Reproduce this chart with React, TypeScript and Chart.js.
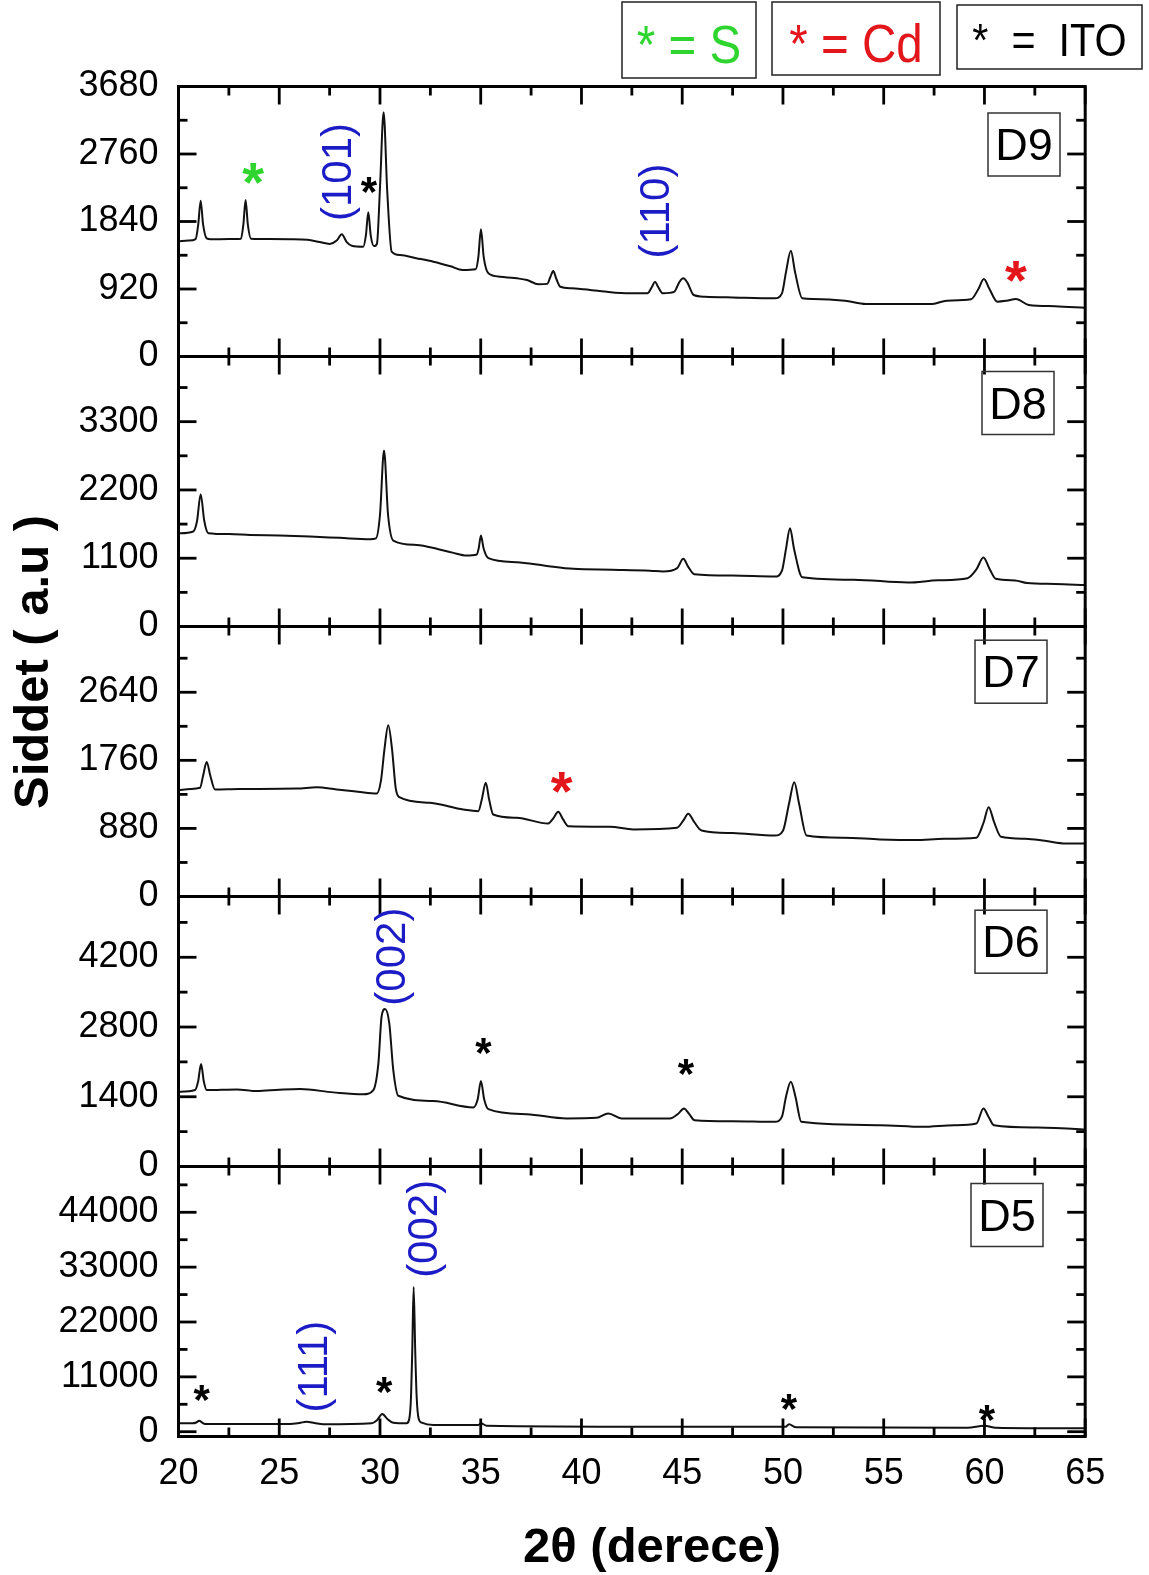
import { useEffect, useRef } from 'react';
import { Chart, registerables } from 'chart.js';

Chart.register(...registerables);

type Pt = [number, number];

// 2θ axis
const twoThetaMin = 20;
const twoThetaMax = 65;
const twoThetaTicks = [20, 25, 30, 35, 40, 45, 50, 55, 60, 65];

// Intensity axes, top panel first
const sampleNames = ['D9', 'D8', 'D7', 'D6', 'D5'];
const intensityMin = [0, 0, 0, 0, -960];
const intensityMax = [3680, 4350, 3490, 5420, 53180];
const d9Ticks = [0, 920, 1840, 2760, 3680];
const d8Ticks = [0, 1100, 2200, 3300];
const d7Ticks = [0, 880, 1760, 2640];
const d6Ticks = [0, 1400, 2800, 4200];
const d5Ticks = [0, 11000, 22000, 33000, 44000];

// Diffraction patterns: [2θ (degrees), intensity (a.u.)]
const d9Pattern: Pt[] = [
  [20.0, 1570], [20.5, 1580], [20.85, 1600], [20.98, 1800], [21.1, 2124], [21.22, 1800], [21.4, 1610],
  [21.6, 1598], [22.5, 1600], [23.1, 1605], [23.22, 1800], [23.33, 2133], [23.44, 1800], [23.6, 1604],
  [24.5, 1600], [25.5, 1598], [26.4, 1590], [27.0, 1560], [27.5, 1535], [27.85, 1580], [28.1, 1665],
  [28.35, 1560], [28.6, 1510], [29.17, 1497], [29.3, 1650], [29.42, 1965], [29.54, 1650], [29.7, 1505],
  [29.85, 1540], [30.0, 2300], [30.18, 3328], [30.36, 2250], [30.58, 1429], [31.0, 1383], [31.8, 1340],
  [32.65, 1292], [33.5, 1230], [34.1, 1180], [34.75, 1190], [34.88, 1350], [35.01, 1733], [35.15, 1350],
  [35.38, 1134], [35.96, 1088], [36.8, 1065], [37.3, 1043], [37.86, 984], [38.3, 990], [38.45, 1080],
  [38.6, 1165], [38.75, 1060], [38.95, 951], [39.5, 930], [40.1, 916], [41.0, 890], [42.4, 861],
  [43.27, 861], [43.5, 950], [43.65, 1020], [43.8, 950], [44.04, 861], [44.6, 880], [44.85, 1010],
  [45.05, 1065], [45.25, 1010], [45.57, 838], [46.13, 815], [47.5, 805], [49.6, 793], [49.95, 860],
  [50.15, 1150], [50.39, 1442], [50.6, 1150], [50.96, 793], [51.5, 785], [53.08, 761], [54.12, 716],
  [57.42, 716], [58.12, 761], [59.33, 779], [59.7, 920], [59.97, 1056], [60.25, 920], [60.64, 747],
  [61.1, 760], [61.56, 784], [62.2, 702], [63.5, 685], [65.0, 663],
];

const d8Pattern: Pt[] = [
  [20.0, 1500], [20.73, 1530], [20.92, 1700], [21.1, 2132], [21.28, 1700], [21.48, 1504], [22.5, 1490],
  [23.55, 1476], [25.0, 1465], [26.53, 1449], [28.0, 1428], [29.5, 1407], [29.8, 1420], [30.0, 1800],
  [30.2, 2834], [30.4, 1800], [30.66, 1385], [31.82, 1315], [32.9, 1246], [33.6, 1190], [34.3, 1143],
  [34.8, 1160], [34.9, 1260], [35.01, 1465], [35.14, 1260], [35.38, 1101], [36.78, 1037], [38.2, 980],
  [39.6, 929], [41.5, 915], [43.4, 900], [44.04, 886], [44.75, 940], [45.05, 1090], [45.3, 960],
  [45.6, 843], [47.5, 820], [49.6, 805], [49.95, 900], [50.15, 1250], [50.35, 1584], [50.55, 1250],
  [50.96, 795], [53.5, 755], [56.2, 708], [57.7, 745], [59.16, 779], [59.6, 920], [59.95, 1111],
  [60.25, 930], [60.56, 768], [61.52, 741], [62.11, 699], [63.5, 685], [65.0, 668],
];

const d7Pattern: Pt[] = [
  [20.0, 1374], [20.6, 1390], [21.07, 1405], [21.22, 1560], [21.4, 1740], [21.58, 1560], [21.81, 1383],
  [23.0, 1390], [25.87, 1395], [26.86, 1413], [27.85, 1383], [28.9, 1355], [29.84, 1331], [30.05, 1500],
  [30.22, 1900], [30.41, 2212], [30.6, 1900], [30.78, 1400], [30.96, 1284], [32.48, 1211], [34.13, 1125],
  [34.88, 1103], [35.05, 1250], [35.25, 1469], [35.42, 1250], [35.62, 1060], [36.78, 1018], [38.35, 944],
  [38.6, 1010], [38.85, 1095], [39.08, 1000], [39.35, 909], [41.41, 902], [42.57, 867], [44.74, 889],
  [45.05, 980], [45.3, 1069], [45.6, 960], [45.96, 854], [47.5, 820], [49.6, 789], [50.0, 850],
  [50.3, 1200], [50.56, 1477], [50.8, 1200], [51.17, 789], [53.0, 760], [54.81, 738], [56.55, 729],
  [58.0, 745], [59.6, 760], [59.95, 950], [60.21, 1155], [60.48, 960], [60.82, 773], [62.03, 747],
  [63.0, 720], [64.03, 686], [65.0, 686],
];

const d6Pattern: Pt[] = [
  [20.0, 1500], [20.82, 1535], [20.97, 1700], [21.12, 2058], [21.26, 1700], [21.4, 1535], [22.89, 1548],
  [23.88, 1514], [25.0, 1540], [26.03, 1555], [27.68, 1488], [29.17, 1448], [29.67, 1535], [29.92, 2072],
  [30.08, 3011], [30.25, 3160], [30.46, 2878], [30.66, 1937], [30.91, 1420], [32.65, 1313], [34.63, 1186],
  [34.85, 1350], [35.01, 1716], [35.17, 1350], [35.38, 1152], [37.28, 1051], [39.26, 965], [40.75, 977],
  [41.33, 1065], [41.99, 965], [44.39, 965], [44.8, 1060], [45.09, 1166], [45.35, 1050], [45.61, 930],
  [47.5, 910], [49.6, 896], [49.95, 1000], [50.15, 1400], [50.39, 1702], [50.62, 1400], [50.91, 896],
  [54.81, 830], [56.9, 796], [58.5, 830], [59.6, 864], [59.95, 1166], [60.2, 1000], [60.47, 830],
  [62.64, 783], [64.9, 743], [65.0, 740],
];

const d5Pattern: Pt[] = [
  [20.0, 1690], [20.7, 1690], [20.88, 1850], [21.03, 2210], [21.18, 1800], [21.32, 1547], [25.53, 1547],
  [26.0, 1750], [26.36, 2009], [26.75, 1750], [27.19, 1487], [29.59, 1688], [29.85, 2300], [30.11, 3556],
  [30.38, 2500], [30.66, 1808], [31.32, 1688], [31.45, 2500], [31.54, 7000], [31.6, 16000], [31.67, 29010],
  [31.75, 16000], [31.82, 7000], [31.92, 2600], [32.07, 1808], [32.65, 1346], [34.88, 1346], [35.01, 1688],
  [35.29, 1205], [43.4, 1005], [50.13, 1005], [50.3, 1487], [50.65, 884], [59.16, 804], [60.0, 1205],
  [60.56, 804], [65.0, 683],
];

const patterns = [d9Pattern, d8Pattern, d7Pattern, d6Pattern, d5Pattern];
const tickSets = [d9Ticks, d8Ticks, d7Ticks, d6Ticks, d5Ticks];

// Phase / reflection markers: panel, 2θ, intensity, kind
const peakMarks = [
  { panel: 'D9', x: 23.7, y: 2556, kind: 'S', text: '*' },
  { panel: 'D9', x: 27.97, y: 2515, kind: 'hkl', text: '(101)' },
  { panel: 'D9', x: 29.45, y: 2378, kind: 'ITO', text: '*' },
  { panel: 'D9', x: 43.75, y: 1983, kind: 'hkl', text: '(110)' },
  { panel: 'D9', x: 61.56, y: 1220, kind: 'Cd', text: '*' },
  { panel: 'D7', x: 39.02, y: 1534, kind: 'Cd', text: '*' },
  { panel: 'D6', x: 30.66, y: 4213, kind: 'hkl', text: '(002)' },
  { panel: 'D6', x: 35.13, y: 2487, kind: 'ITO', text: '*' },
  { panel: 'D6', x: 45.18, y: 2058, kind: 'ITO', text: '*' },
  { panel: 'D5', x: 21.15, y: 8518, kind: 'ITO', text: '*' },
  { panel: 'D5', x: 26.81, y: 13060, kind: 'hkl', text: '(111)' },
  { panel: 'D5', x: 30.21, y: 10045, kind: 'ITO', text: '*' },
  { panel: 'D5', x: 32.26, y: 40680, kind: 'hkl', text: '(002)' },
  { panel: 'D5', x: 50.3, y: 6710, kind: 'ITO', text: '*' },
  { panel: 'D5', x: 60.12, y: 4360, kind: 'ITO', text: '*' },
];

const legendEntries = [
  { kind: 'S', text: '* = S' },
  { kind: 'Cd', text: '* = Cd' },
  { kind: 'ITO', text: '*  =  ITO' },
];

const FONT = '"Liberation Sans", Arial, Helvetica, sans-serif';
const kindColor: Record<string, string> = { S: '#2fd52f', Cd: '#e2161b', ITO: '#000000', hkl: '#1c1cc6' };

// sample-name boxes (page pixels: left edge, offset below panel top)
const nameBoxLeft = [988, 982, 975, 975, 971];
const nameBoxOffset = [26.5, 15, 13.7, 13.7, 17];

// legend boxes (page pixels)
const legendBoxes = [
  { x: 622, y: 2, w: 134, h: 76, size: 54, base: 63 },
  { x: 772, y: 2, w: 168, h: 73, size: 54, base: 62 },
  { x: 957, y: 5, w: 185, h: 64, size: 47, base: 56 },
];

const axisId = (name: string) => 'y' + name;

const overlayPlugin = {
  id: 'xrdOverlay',
  afterDatasetsDraw(chart: any) {
    const ctx: CanvasRenderingContext2D = chart.ctx;
    const xs = chart.scales.x;
    const left = xs.left;
    const right = xs.right;
    ctx.save();
    ctx.strokeStyle = '#000';
    ctx.lineCap = 'butt';

    const seg = (x1: number, y1: number, x2: number, y2: number) => {
      ctx.beginPath();
      ctx.moveTo(x1, y1);
      ctx.lineTo(x2, y2);
      ctx.stroke();
    };

    sampleNames.forEach((name, i) => {
      const ys = chart.scales[axisId(name)];
      const top = ys.top;
      const bottom = ys.bottom;
      ctx.lineWidth = 2.8;
      // 2θ ticks on both edges, pointing inward
      for (let v = twoThetaMin; v <= twoThetaMax + 1e-6; v += 2.5) {
        const px = xs.getPixelForValue(v);
        const major = Math.abs((v - twoThetaMin) % 5) < 1e-6;
        const len = major ? 18 : 9;
        seg(px, bottom, px, bottom - len);
        seg(px, top, px, top + len);
      }
      // intensity ticks on both sides
      const tks = tickSets[i];
      const step = tks[1] - tks[0];
      const min = intensityMin[i];
      const max = intensityMax[i];
      tks.forEach((v) => {
        const py = ys.getPixelForValue(v);
        seg(left, py, left + 18, py);
        seg(right, py, right - 18, py);
      });
      for (let v = tks[0] + step / 2; v < max; v += step) {
        if (v < min) continue;
        const py = ys.getPixelForValue(v);
        seg(left, py, left + 9, py);
        seg(right, py, right - 9, py);
      }
      // frame
      ctx.lineWidth = 3;
      ctx.strokeRect(left, top, right - left, bottom - top);

      // sample-name box
      const bx = nameBoxLeft[i];
      const by = top + nameBoxOffset[i];
      ctx.lineWidth = 1.5;
      ctx.strokeStyle = '#333';
      ctx.strokeRect(bx, by, 72, 63);
      ctx.strokeStyle = '#000';
      ctx.fillStyle = '#000';
      ctx.font = `45px ${FONT}`;
      ctx.textAlign = 'center';
      ctx.textBaseline = 'alphabetic';
      ctx.fillText(name, bx + 36, by + 47);
    });

    // peak markers
    peakMarks.forEach((m) => {
      const ys = chart.scales[axisId(m.panel)];
      const px = xs.getPixelForValue(m.x);
      const py = ys.getPixelForValue(m.y);
      ctx.fillStyle = kindColor[m.kind];
      ctx.textAlign = 'center';
      if (m.kind === 'hkl') {
        ctx.save();
        ctx.translate(px, py);
        ctx.rotate(-Math.PI / 2);
        ctx.font = `42px ${FONT}`;
        ctx.textBaseline = 'middle';
        ctx.fillText(m.text, 0, 0);
        ctx.restore();
      } else if (m.kind === 'ITO') {
        ctx.font = `bold 42px ${FONT}`;
        ctx.textBaseline = 'alphabetic';
        ctx.fillText(m.text, px, py + 0.58 * 42);
      } else {
        ctx.font = `bold 56px ${FONT}`;
        ctx.textBaseline = 'alphabetic';
        ctx.fillText(m.text, px, py + 0.58 * 56);
      }
    });

    // legend
    legendEntries.forEach((e, i) => {
      const b = legendBoxes[i];
      ctx.lineWidth = 1.5;
      ctx.strokeStyle = '#222';
      ctx.strokeRect(b.x, b.y, b.w, b.h);
      ctx.fillStyle = kindColor[e.kind];
      ctx.font = `${b.size}px ${FONT}`;
      ctx.textAlign = 'center';
      ctx.textBaseline = 'alphabetic';
      ctx.save();
      ctx.translate(b.x + b.w / 2, b.base);
      ctx.scale(0.88, 1);
      ctx.fillText(e.text, 0, 0);
      ctx.restore();
    });

    // axis titles
    ctx.fillStyle = '#000';
    ctx.font = `bold 49px ${FONT}`;
    ctx.textAlign = 'center';
    ctx.textBaseline = 'alphabetic';
    ctx.fillText('2θ (derece)', 652, 1562);

    ctx.save();
    ctx.translate(34, 662);
    ctx.rotate(-Math.PI / 2);
    ctx.font = `bold 49px ${FONT}`;
    ctx.textBaseline = 'middle';
    ctx.fillText('Siddet ( a.u )', 0, 0);
    ctx.restore();

    ctx.restore();
  },
};

function buildScales() {
  const tickFont = { family: FONT, size: 36 };
  const scales: any = {
    x: {
      type: 'linear',
      position: 'bottom',
      min: twoThetaMin,
      max: twoThetaMax,
      afterBuildTicks: (s: any) => {
        s.ticks = twoThetaTicks.map((v) => ({ value: v }));
      },
      afterFit: (s: any) => {
        s.height = 138.5;
      },
      grid: { display: false, drawTicks: false },
      border: { display: false },
      ticks: {
        padding: 16,
        font: tickFont,
        color: '#000',
        autoSkip: false,
        maxRotation: 0,
        callback: (v: any) => String(v),
      },
    },
  };
  // left-side stacked axes are laid out last-defined on top, so add the bottom panel first
  for (let i = sampleNames.length - 1; i >= 0; i--) {
    const tks = tickSets[i];
    scales[axisId(sampleNames[i])] = {
      type: 'linear',
      position: 'left',
      stack: 'xrd',
      stackWeight: 1,
      min: intensityMin[i],
      max: intensityMax[i],
      afterBuildTicks: (s: any) => {
        s.ticks = tks.map((v) => ({ value: v }));
      },
      afterFit: (s: any) => {
        s.width = 178.5;
      },
      grid: { display: false, drawTicks: false },
      border: { display: false },
      ticks: {
        padding: 20,
        font: tickFont,
        color: '#000',
        autoSkip: false,
        callback: (v: any) => String(v),
      },
    };
  }
  return scales;
}

export default function App() {
  const canvasRef = useRef<HTMLCanvasElement>(null);

  useEffect(() => {
    const canvas = canvasRef.current;
    if (!canvas) return;
    const chart = new Chart(canvas, {
      type: 'line',
      data: {
        datasets: sampleNames.map((name, i) => ({
          label: name,
          data: patterns[i].map(([x, y]) => ({ x, y })),
          xAxisID: 'x',
          yAxisID: axisId(name),
          borderColor: '#111',
          borderWidth: 2,
          pointRadius: 0,
          fill: false,
          cubicInterpolationMode: 'monotone' as const,
        })),
      },
      options: {
        responsive: false,
        animation: false,
        devicePixelRatio: 1,
        layout: { padding: { top: 86.5, left: 0, right: 63.8, bottom: 0 } },
        plugins: { legend: { display: false }, tooltip: { enabled: false } },
        scales: buildScales(),
      },
      plugins: [overlayPlugin],
    } as any);
    return () => chart.destroy();
  }, []);

  return (
    <div style={{ position: 'absolute', left: 0, top: 0, width: 1149, height: 1575, background: '#fff' }}>
      <canvas ref={canvasRef} width={1149} height={1575} style={{ display: 'block' }} />
    </div>
  );
}
